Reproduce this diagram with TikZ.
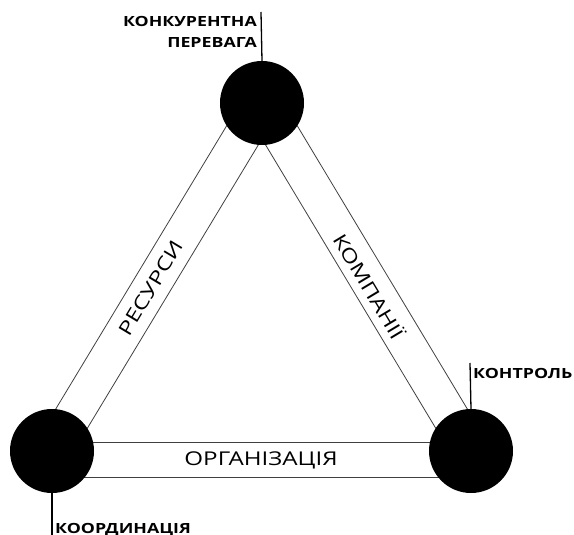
\documentclass[tikz,border=0pt]{standalone}
\usepackage{fontspec}
\setmainfont[FakeStretch=1.27]{Open Sans}
\usetikzlibrary{calc}

\begin{document}
\begin{tikzpicture}[
    x=1pt,y=-1pt,
    dot/.style={circle,fill=black,minimum size=84pt,inner sep=0pt},
    band/.style={draw=black!75,line width=0.8pt},
    tick/.style={draw=black,line width=1.3pt},
    tag/.style={inner sep=0pt,font=\fontsize{14}{21}\selectfont\bfseries},
    word/.style={inner sep=0pt,font=\fontsize{19}{22}\selectfont}
]
\useasboundingbox (0,0) rectangle (574,535);

\coordinate (adv) at (262,103);
\coordinate (crd) at (52,451);
\coordinate (ctl) at (471,451);

% bands between the circles
\draw[band] ($(crd)!18.5pt!90:(adv)$) -- ($(adv)!18.5pt!-90:(crd)$);
\draw[band] ($(crd)!18.5pt!-90:(adv)$) -- ($(adv)!18.5pt!90:(crd)$);
\draw[band] ($(adv)!18.5pt!90:(ctl)$) -- ($(ctl)!18.5pt!-90:(adv)$);
\draw[band] ($(adv)!18.5pt!-90:(ctl)$) -- ($(ctl)!18.5pt!90:(adv)$);
\draw[band] ($(crd)+(0,-9)$) -- ($(ctl)+(0,-9)$);
\draw[band] ($(crd)+(0,26)$) -- ($(ctl)+(0,26)$);

\node[dot] (top) at (adv) {};
\node[dot] (left) at (crd) {};
\node[dot] (right) at (ctl) {};

\node[word,rotate=59] (res) at (151,288) {РЕСУРСИ};
\node[word,rotate=-59] (comp) at (370,286) {КОМПАНІЇ};
\node[word] (org) at (261,460) {ОРГАНІЗАЦІЯ};

% labels
\coordinate (topend) at (261,12);
\coordinate (leftend) at (52,535);
\coordinate (rightend) at (470,363);
\draw[tick] (top.north) -- (topend);
\draw[tick] (left.south) -- (leftend);
\draw[tick] (right.north) -- (rightend);

\node[tag,anchor=north east,align=right] (advtxt) at (257,16) {КОНКУРЕНТНА\\ПЕРЕВАГА};
\node[tag,anchor=base west] (crdtxt) at (55,533) {КООРДИНАЦІЯ};
\node[tag,anchor=base west] (ctltxt) at (473,378) {КОНТРОЛЬ};
\end{tikzpicture}
\end{document}
